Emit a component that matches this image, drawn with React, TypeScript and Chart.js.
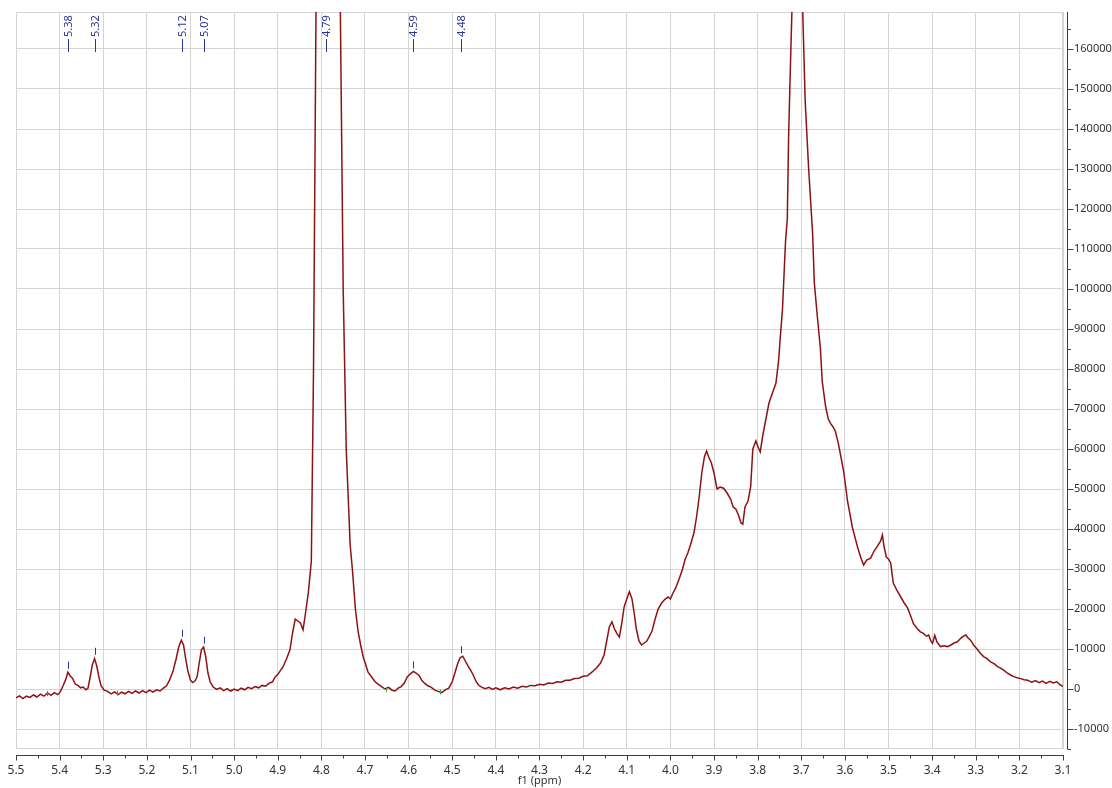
import React, { useEffect, useRef } from 'react';
import { Chart, registerables } from 'chart.js';

Chart.register(...registerables);

// Chemical shift (ppm) and intensity
const SPEC_PPM = [
  5.500, 5.492, 5.484, 5.476, 5.468, 5.460, 5.452, 5.444, 5.436, 5.428, 5.420, 5.412, 5.404, 5.398, 5.392, 5.386,
  5.381, 5.376, 5.370, 5.364, 5.358, 5.352, 5.346, 5.340, 5.335, 5.330, 5.325, 5.320, 5.315, 5.310, 5.305, 5.298,
  5.290, 5.282, 5.274, 5.266, 5.258, 5.250, 5.242, 5.234, 5.226, 5.218, 5.210, 5.202, 5.194, 5.186, 5.178, 5.170,
  5.162, 5.155, 5.148, 5.140, 5.133, 5.127, 5.121, 5.116, 5.111, 5.106, 5.100, 5.095, 5.090, 5.085, 5.080, 5.075,
  5.070, 5.065, 5.060, 5.055, 5.048, 5.040, 5.032, 5.024, 5.016, 5.008, 5.000, 4.992, 4.984, 4.976, 4.968, 4.960,
  4.952, 4.944, 4.936, 4.928, 4.920, 4.912, 4.906, 4.900, 4.894, 4.888, 4.880, 4.872, 4.866, 4.860, 4.854, 4.848,
  4.842, 4.837, 4.830, 4.823, 4.818, 4.812, 4.789, 4.757, 4.750, 4.743, 4.734, 4.729, 4.722, 4.716, 4.710, 4.704,
  4.698, 4.693, 4.686, 4.677, 4.670, 4.662, 4.654, 4.646, 4.638, 4.631, 4.624, 4.617, 4.610, 4.603, 4.596, 4.589,
  4.583, 4.576, 4.570, 4.563, 4.556, 4.548, 4.540, 4.532, 4.524, 4.516, 4.508, 4.500, 4.494, 4.488, 4.482, 4.476,
  4.470, 4.464, 4.458, 4.452, 4.446, 4.440, 4.432, 4.424, 4.416, 4.408, 4.400, 4.390, 4.380, 4.370, 4.360, 4.350,
  4.340, 4.330, 4.320, 4.310, 4.300, 4.290, 4.280, 4.270, 4.260, 4.250, 4.240, 4.230, 4.220, 4.210, 4.200, 4.190,
  4.180, 4.170, 4.160, 4.152, 4.146, 4.140, 4.134, 4.128, 4.122, 4.117, 4.112, 4.106, 4.100, 4.094, 4.088, 4.083,
  4.078, 4.072, 4.066, 4.060, 4.054, 4.048, 4.042, 4.035, 4.028, 4.020, 4.012, 4.005, 4.000, 3.994, 3.988, 3.980,
  3.972, 3.966, 3.960, 3.954, 3.946, 3.940, 3.934, 3.928, 3.922, 3.917, 3.912, 3.906, 3.900, 3.893, 3.886, 3.878,
  3.870, 3.862, 3.856, 3.850, 3.844, 3.838, 3.834, 3.829, 3.822, 3.816, 3.811, 3.804, 3.799, 3.794, 3.788, 3.781,
  3.774, 3.766, 3.758, 3.752, 3.748, 3.743, 3.736, 3.732, 3.729, 3.725, 3.720, 3.711, 3.698, 3.691, 3.683, 3.674,
  3.670, 3.663, 3.656, 3.652, 3.644, 3.638, 3.633, 3.627, 3.622, 3.615, 3.609, 3.603, 3.598, 3.594, 3.588, 3.583,
  3.577, 3.571, 3.564, 3.557, 3.550, 3.541, 3.533, 3.525, 3.518, 3.514, 3.510, 3.505, 3.500, 3.495, 3.489, 3.480,
  3.472, 3.464, 3.456, 3.450, 3.443, 3.435, 3.427, 3.420, 3.413, 3.408, 3.403, 3.399, 3.394, 3.389, 3.381, 3.373,
  3.365, 3.357, 3.350, 3.342, 3.335, 3.328, 3.323, 3.318, 3.312, 3.305, 3.297, 3.290, 3.282, 3.274, 3.266, 3.259,
  3.250, 3.243, 3.236, 3.228, 3.220, 3.213, 3.205, 3.197, 3.189, 3.181, 3.172, 3.163, 3.155, 3.147, 3.139, 3.130,
  3.122, 3.114, 3.106, 3.100,
];

const SPEC_INT = [
  -2200, -1700, -2400, -1800, -2100, -1500, -2000, -1300, -1800, -1000, -1600, -900, -1400, -600, 800, 2400,
  4200, 3300, 2600, 1200, 900, 300, 500, -200, 200, 3000, 6000, 7600, 5800, 3000, 800, -300,
  -600, -1200, -700, -1400, -800, -1200, -600, -1100, -500, -1000, -400, -900, -300, -800, -200, -500,
  200, 800, 2200, 4500, 7500, 10500, 12200, 11000, 7500, 4500, 2200, 1600, 2000, 3000, 6500, 9800,
  10500, 8000, 4000, 1800, 500, -100, 300, -400, 100, -500, 0, -400, 200, -200, 400, 100,
  600, 300, 900, 700, 1400, 1800, 3000, 3600, 4600, 5500, 7500, 9800, 14000, 17500, 17000, 16500,
  14800, 18500, 24000, 32000, 80000, 175000, 520000, 175000, 100000, 60000, 36000, 30000, 20000, 14500, 11000, 8000,
  6000, 4200, 3200, 1800, 1200, 600, 0, 400, -300, -500, 200, 600, 1500, 3000, 3800, 4400,
  4000, 3400, 2200, 1400, 800, 400, -300, -600, -900, -200, 200, 1800, 4000, 6200, 7800, 8200,
  7000, 5800, 4700, 3500, 2000, 1000, 400, 100, 400, -100, 300, -200, 300, 0, 500, 200,
  700, 500, 900, 800, 1200, 1000, 1500, 1400, 1800, 1700, 2200, 2200, 2600, 2700, 3200, 3300,
  4200, 5200, 6500, 8500, 12000, 15500, 16800, 15000, 13800, 13000, 16000, 20500, 22500, 24300, 22500, 19000,
  15000, 12000, 11000, 11500, 12000, 13200, 14500, 17500, 20000, 21500, 22500, 23000, 22500, 24000, 25200, 27500,
  30000, 32500, 34000, 36000, 39000, 43000, 48000, 54000, 58000, 59500, 58000, 56500, 54000, 50000, 50500, 50200,
  49000, 47500, 45500, 45000, 43500, 41500, 41200, 45500, 47000, 50500, 60000, 62000, 60500, 59300, 63500, 67500,
  71500, 74000, 76500, 82000, 88000, 95000, 112000, 117500, 138000, 155000, 175000, 420000, 175000, 147000, 130000, 114000,
  101500, 93000, 85000, 77000, 70500, 67500, 66400, 65500, 64500, 61400, 58000, 54500, 50500, 47000, 43500, 40500,
  38000, 35500, 33000, 31000, 32200, 32700, 34500, 35800, 37000, 38500, 35500, 33000, 32500, 31500, 26500, 24500,
  23000, 21500, 20200, 18500, 16400, 15200, 14300, 13900, 13200, 13500, 12000, 11400, 13400, 11800, 10600, 10800,
  10600, 11000, 11500, 11800, 12600, 13200, 13500, 12800, 12200, 11000, 10000, 9000, 8100, 7600, 6800, 6400,
  5600, 5200, 4700, 4000, 3500, 3100, 2800, 2600, 2300, 2200, 1700, 2100, 1600, 2000, 1400, 1900,
  1500, 1800, 1000, 700,
];

// Peak picking annotations
const PEAK_PPM = [5.38, 5.32, 5.12, 5.07, 4.79, 4.59, 4.48];
const PEAK_LABELS = ['5.38', '5.32', '5.12', '5.07', '4.79', '4.59', '4.48'];
const PEAK_TOP = [4300, 7800, 12300, 10600, null, 4400, 8200];
const BASE_MARK_PPM = [5.429, 5.268, 4.651, 4.528];
const BASE_MARK_INT = [-1000, -900, 0, -600];

// Axes
const X_TICKS = [5.5, 5.4, 5.3, 5.2, 5.1, 5.0, 4.9, 4.8, 4.7, 4.6, 4.5, 4.4, 4.3, 4.2, 4.1, 4.0, 3.9, 3.8, 3.7, 3.6, 3.5, 3.4, 3.3, 3.2, 3.1];
const Y_TICKS = [-10000, 0, 10000, 20000, 30000, 40000, 50000, 60000, 70000, 80000, 90000, 100000, 110000, 120000, 130000, 140000, 150000, 160000];
const X_MIN = 3.1;
const X_MAX = 5.5;
const Y_MIN = -15000;
const Y_MAX = 169250;

const GRID = '#d4d4d4';
const AXIS = '#3c3c3c';
const LINE = '#8e1212';
const PEAK_BLUE = '#27378f';
const FONT = '"Noto Sans", "DejaVu Sans", sans-serif';

const nmrPlugin = {
  id: 'nmrDecor',
  beforeDatasetsDraw(chart: any) {
    const { ctx, chartArea: ca } = chart;
    ctx.save();
    ctx.strokeStyle = GRID;
    ctx.lineWidth = 1;
    ctx.strokeRect(ca.left + 0.5, ca.top + 0.5, ca.right - ca.left - 1, ca.bottom - ca.top - 1);
    ctx.restore();
  },
  afterDraw(chart: any) {
    const { ctx, chartArea: ca } = chart;
    const xs = chart.scales.x;
    const ys = chart.scales.y;
    ctx.save();
    ctx.strokeStyle = AXIS;
    ctx.lineWidth = 1;
    // bottom axis with major/minor ticks
    const axY = Math.round(ca.bottom + 6) + 0.5;
    ctx.beginPath();
    ctx.moveTo(Math.round(xs.getPixelForValue(X_MAX)), axY);
    ctx.lineTo(Math.round(xs.getPixelForValue(X_MIN)) + 1, axY);
    for (let i = 0; i <= 48; i++) {
      const v = X_MIN + i * 0.05;
      const px = Math.round(xs.getPixelForValue(v)) + 0.5;
      const len = i % 2 === 0 ? 5 : 3;
      ctx.moveTo(px, axY);
      ctx.lineTo(px, axY + len);
    }
    ctx.stroke();
    // right axis with major/minor ticks
    const axX = Math.round(ca.right + 4) + 0.5;
    ctx.beginPath();
    ctx.moveTo(axX, ca.top);
    ctx.lineTo(axX, ca.bottom);
    for (let v = -15000; v <= 165000; v += 5000) {
      const py = Math.round(ys.getPixelForValue(v)) + 0.5;
      const len = v % 10000 === 0 ? 6 : 3.5;
      ctx.moveTo(axX, py);
      ctx.lineTo(axX + len, py);
    }
    ctx.stroke();

    // peak labels at top
    ctx.fillStyle = PEAK_BLUE;
    ctx.strokeStyle = PEAK_BLUE;
    ctx.font = `11px ${FONT}`;
    PEAK_PPM.forEach((p, i) => {
      const px = Math.round(xs.getPixelForValue(p)) + 0.5;
      ctx.beginPath();
      ctx.moveTo(px, ca.top + 27);
      ctx.lineTo(px, ca.top + 40);
      ctx.stroke();
      ctx.save();
      ctx.translate(px, ca.top + 25);
      ctx.rotate(-Math.PI / 2);
      ctx.textAlign = 'left';
      ctx.textBaseline = 'middle';
      ctx.fillText(PEAK_LABELS[i], 0, 0.5);
      ctx.restore();
      const top = PEAK_TOP[i];
      if (top !== null) {
        const py = ys.getPixelForValue(top);
        ctx.beginPath();
        ctx.moveTo(px, py - 3);
        ctx.lineTo(px, py - 10);
        ctx.stroke();
      }
    });
    // small baseline marks
    ctx.strokeStyle = '#3aa03a';
    BASE_MARK_PPM.forEach((p, i) => {
      const px = Math.round(xs.getPixelForValue(p)) + 0.5;
      const py = ys.getPixelForValue(BASE_MARK_INT[i]);
      ctx.beginPath();
      ctx.moveTo(px, py - 2);
      ctx.lineTo(px, py + 3);
      ctx.stroke();
    });
    ctx.restore();
  },
};

export default function App() {
  const canvasRef = useRef<HTMLCanvasElement | null>(null);

  useEffect(() => {
    if (!canvasRef.current) return;
    const points = SPEC_PPM.map((p, i) => ({ x: p, y: SPEC_INT[i] }));
    const chart = new Chart(canvasRef.current, {
      type: 'line',
      data: {
        datasets: [
          {
            data: points,
            borderColor: LINE,
            borderWidth: 1.5,
            pointRadius: 0,
            tension: 0,
            fill: false,
          },
        ],
      },
      options: {
        animation: false,
        responsive: true,
        maintainAspectRatio: false,
        layout: { padding: { left: 16, top: 12, right: 0, bottom: 0 } },
        plugins: {
          legend: { display: false },
          tooltip: { enabled: false },
        },
        scales: {
          x: {
            type: 'linear',
            reverse: true,
            min: X_MIN,
            max: X_MAX,
            afterBuildTicks: (scale: any) => {
              scale.ticks = X_TICKS.map((v) => ({ value: v }));
            },
            afterFit: (scale: any) => {
              scale.height = 39;
              scale.paddingLeft = 0;
              scale.paddingRight = 0;
            },
            grid: { color: GRID, lineWidth: 1, drawTicks: false },
            border: { display: false },
            ticks: {
              autoSkip: false,
              maxRotation: 0,
              padding: 14,
              color: '#333333',
              font: { family: FONT, size: 12 },
              callback: (v: any) => Number(v).toFixed(1),
            },
            title: {
              display: true,
              text: 'f1 (ppm)',
              color: '#333333',
              font: { family: FONT, size: 11 },
              padding: { top: 0, bottom: 1 },
            },
          },
          y: {
            type: 'linear',
            position: 'right',
            min: Y_MIN,
            max: Y_MAX,
            afterBuildTicks: (scale: any) => {
              scale.ticks = Y_TICKS.map((v) => ({ value: v }));
            },
            afterFit: (scale: any) => {
              scale.width = 49;
              scale.paddingTop = 0;
              scale.paddingBottom = 0;
            },
            grid: { color: GRID, lineWidth: 1, drawTicks: false },
            border: { display: false },
            ticks: {
              padding: 11,
              color: '#333333',
              font: { family: FONT, size: 11 },
              callback: (v: any) => String(v),
            },
          },
        },
      },
      plugins: [nmrPlugin],
    });
    return () => chart.destroy();
  }, []);

  return (
    <div style={{ position: 'absolute', left: 0, top: 0, width: 1112, height: 788, background: '#ffffff' }}>
      <canvas ref={canvasRef} />
    </div>
  );
}
